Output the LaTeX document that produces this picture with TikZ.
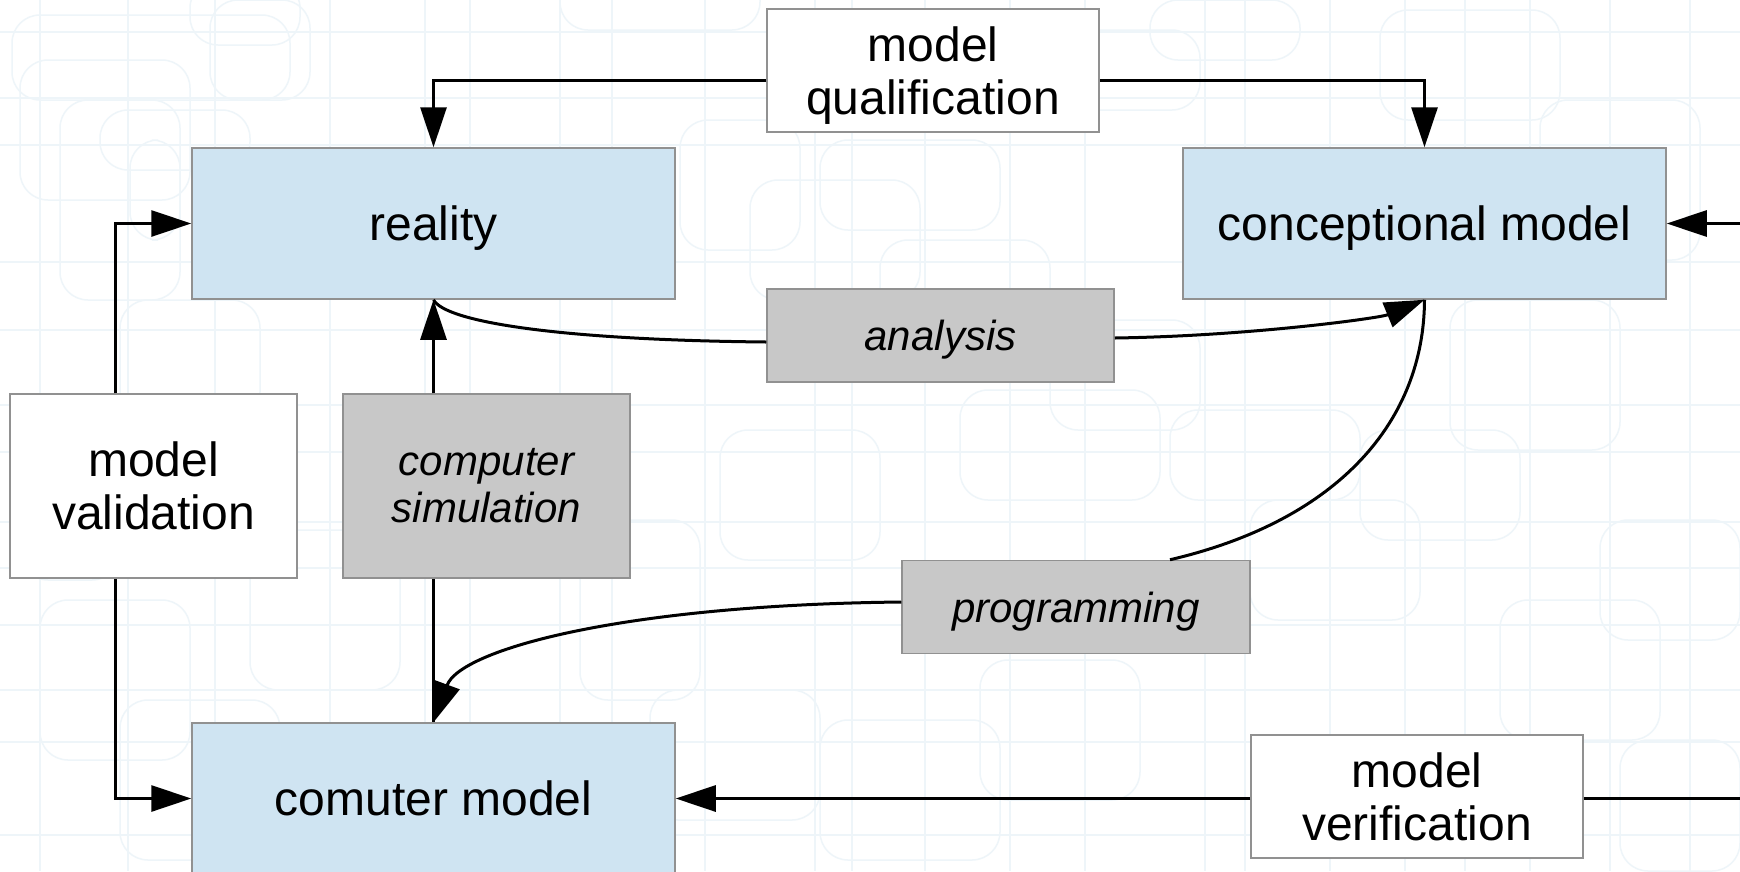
\documentclass[tikz,border=0pt]{standalone}
\usepackage{fontspec}
\setmainfont{Liberation Sans}
\usetikzlibrary{arrows.meta}
\definecolor{bluefill}{RGB}{207,228,242}
\definecolor{grayfill}{RGB}{200,200,200}
\definecolor{boxline}{RGB}{145,145,145}
\definecolor{bgline}{RGB}{238,245,249}
\tikzset{
  basebox/.style={draw=boxline, line width=1.5pt, inner sep=0pt, align=center},
  bluebox/.style={basebox, fill=bluefill, text depth=0pt, font=\fontsize{48}{53}\selectfont},
  whitebox/.style={basebox, fill=white, font=\fontsize{48}{53}\selectfont},
  graybox/.style={basebox, fill=grayfill, font=\fontsize{42}{47}\selectfont\itshape},
  conn/.style={line width=3pt, draw=black},
  arr/.style={conn, -{Triangle[length=40pt,width=26pt]}},
  bgrule/.style={draw=bgline, line width=1.5pt},
  bground/.style={draw=bgline, line width=1.5pt, rounded corners=28pt}
}
\begin{document}
\begin{tikzpicture}[x=1pt,y=-1pt]
\useasboundingbox (0,0) rectangle (1740,871);
\fill[white] (0,0) rectangle (1740,871);
% faint background pattern
\foreach \xx in {40,128,215,330,425,470,560,612,705,815,852,925,1010,1085,1205,1245,1330,1405,1465,1530,1610,1690}
  \draw[bgrule] (\xx,0) -- (\xx,871);
\foreach \yy in {32,98,145,262,330,405,452,522,568,625,690,742,835}
  \draw[bgrule] (0,\yy) -- (1740,\yy);
\foreach \a/\b/\c/\d in {12/15/290/100, 190/-20/300/45, 210/0/310/100, 560/-30/760/30, 20/60/190/200, 60/100/180/300, 100/110/250/170, 130/140/180/240, 120/300/260/420, 20/420/120/580, 360/420/520/520, 250/530/400/690, 580/520/700/700, 40/600/190/760, 120/700/280/860, 680/120/800/250, 750/180/920/300, 820/140/1000/230, 880/240/1050/340, 960/390/1160/500, 1050/320/1200/430, 1170/410/1360/500, 1250/500/1420/620, 1360/430/1520/540, 1450/300/1620/450, 1540/100/1700/260, 1380/10/1560/120, 1600/520/1740/640, 1500/600/1660/740, 1620/740/1740/871, 720/430/880/560, 650/690/820/820, 820/720/1000/860, 980/660/1140/800, 1060/30/1200/110, 1150/0/1300/60}
  \draw[bground] (\a,\b) rectangle (\c,\d);

% nodes
\node[bluebox, minimum width=483pt, minimum height=151pt] (reality) at (433.5,223.5) {reality};
\node[bluebox, minimum width=483pt, minimum height=151pt] (concept) at (1424.5,223.5) {conceptional model};
\node[bluebox, minimum width=483pt, minimum height=151pt] (computer) at (433.5,798.5) {comuter model};
\node[whitebox, text depth=0pt, minimum width=332pt, minimum height=123pt] (qual) at (933,70.5) {model\\qualification};
\node[whitebox, minimum width=287pt, minimum height=184pt] (valid) at (153.5,486) {model\\validation};
\node[whitebox, minimum width=332pt, minimum height=123pt] (verif) at (1417,796.5) {model\\verification};
\node[graybox, text depth=0pt, minimum width=347pt, minimum height=93pt] (ana) at (940.5,335.5) {analysis};
\node[graybox, minimum width=287pt, minimum height=184pt] (sim) at (486.5,486) {computer\\simulation};
\node[graybox, text depth=0pt, minimum width=348pt, minimum height=93pt] (prog) at (1076,607) {programming};

\coordinate (rightout) at (1740,798.5);
\coordinate (rightin) at (1740,223.5);

% connectors
\draw[arr] ([yshift=-9.5pt]qual.west) -| (reality.north);
\draw[arr] ([yshift=-9.5pt]qual.east) -| (concept.north);
\draw[arr] ([xshift=-38.5pt]valid.north) |- (reality.west);
\draw[arr] ([xshift=-38.5pt]valid.south) |- (computer.west);
\draw[arr] (reality.south |- sim.north) -- (reality.south);
\draw[conn] (computer.north |- sim.south) -- (computer.north);
\draw[conn] (reality.south) .. controls (445,322) and (560,340) .. ([yshift=-6.5pt]ana.west);
\draw[arr] ([yshift=-2.5pt]ana.east) .. controls (1250,336) and (1380,318) .. (concept.south);
\draw[conn] (concept.south) .. controls (1424,420) and (1340,520) .. ([xshift=94pt]prog.north);
\draw[arr] ([yshift=5pt]prog.west) .. controls (620,605) and (460,650) .. (computer.north);
\draw[arr] (verif.west |- computer.east) -- (computer.east);
\draw[conn] (verif.east |- computer.east) -- (rightout);
\draw[arr] (rightin) -- (concept.east);
\end{tikzpicture}
\end{document}
